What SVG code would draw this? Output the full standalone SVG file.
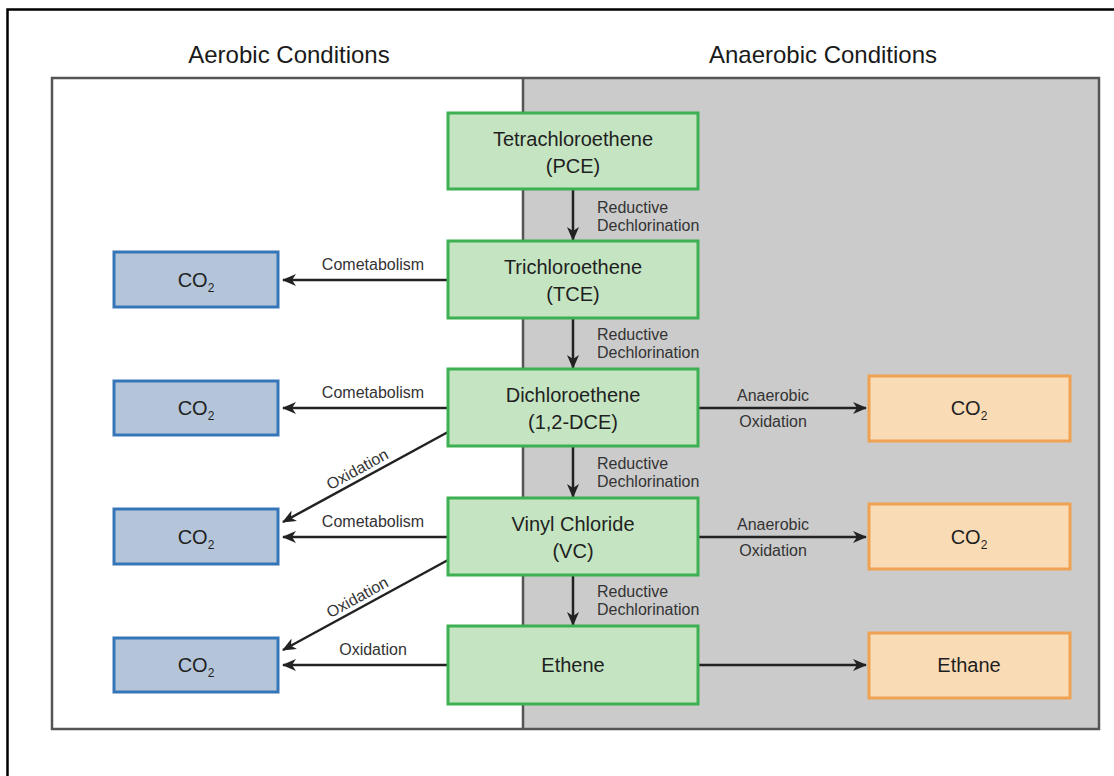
<svg xmlns="http://www.w3.org/2000/svg" width="1114" height="776" viewBox="0 0 1114 776">
<defs>
<marker id="ah" markerUnits="userSpaceOnUse" markerWidth="14" markerHeight="12" refX="13" refY="6" orient="auto">
<path d="M0,0 L14,6 L0,12 L4,6 z" fill="#222"/>
</marker>
<style>
.hdr{font-family:"Liberation Sans",Arial,sans-serif;font-size:24px;fill:#1a1a1a;text-anchor:middle}
.bt{font-family:"Liberation Sans",Arial,sans-serif;font-size:20px;fill:#1f1f1f;text-anchor:middle}
.lb{font-family:"Liberation Sans",Arial,sans-serif;font-size:16px;fill:#333;}
.lbc{font-family:"Liberation Sans",Arial,sans-serif;font-size:16px;fill:#333;text-anchor:middle}
.sub{font-size:12px}
.green{fill:#c5e5c2;stroke:#3db052;stroke-width:3}
.blue{fill:#b5c5d9;stroke:#3576b8;stroke-width:3}
.orange{fill:#f9dcb6;stroke:#f0a253;stroke-width:3}
.conn{stroke:#222;stroke-width:2.5;fill:none;marker-end:url(#ah)}
</style>
</defs>
<rect width="1114" height="776" fill="#fff"/>
<rect x="7.5" y="9.5" width="1200" height="900" fill="none" stroke="#000" stroke-width="2.5"/>
<text class="hdr" x="289" y="63">Aerobic Conditions</text>
<text class="hdr" x="823" y="63">Anaerobic Conditions</text>
<g id="panel">
<rect x="52" y="78" width="471" height="651" fill="#fff"/>
<rect x="523" y="78" width="576" height="651" fill="#cbcbcb"/>
<rect x="52" y="78" width="1047" height="651" fill="none" stroke="#555" stroke-width="2.5"/>
<line x1="523" y1="78" x2="523" y2="729" stroke="#555" stroke-width="2.5"/>
</g>
<g id="connectors">
<line class="conn" x1="573" y1="189" x2="573" y2="240"/>
<line class="conn" x1="573" y1="318" x2="573" y2="368"/>
<line class="conn" x1="573" y1="446" x2="573" y2="497"/>
<line class="conn" x1="573" y1="575" x2="573" y2="625"/>
<line class="conn" x1="448" y1="280" x2="283" y2="280"/>
<line class="conn" x1="448" y1="408" x2="283" y2="408"/>
<line class="conn" x1="448" y1="537" x2="283" y2="537"/>
<line class="conn" x1="448" y1="665" x2="283" y2="665"/>
<line class="conn" x1="448" y1="432" x2="283" y2="522"/>
<line class="conn" x1="448" y1="560" x2="283" y2="650"/>
<line class="conn" x1="698" y1="408" x2="866" y2="408"/>
<line class="conn" x1="698" y1="537" x2="866" y2="537"/>
<line class="conn" x1="698" y1="665" x2="866" y2="665"/>
<text class="lb" x="597" y="213">Reductive</text>
<text class="lb" x="597" y="231">Dechlorination</text>
<text class="lb" x="597" y="340">Reductive</text>
<text class="lb" x="597" y="358">Dechlorination</text>
<text class="lb" x="597" y="469">Reductive</text>
<text class="lb" x="597" y="487">Dechlorination</text>
<text class="lb" x="597" y="597">Reductive</text>
<text class="lb" x="597" y="615">Dechlorination</text>
<text class="lbc" x="373" y="270">Cometabolism</text>
<text class="lbc" x="373" y="398">Cometabolism</text>
<text class="lbc" x="373" y="527">Cometabolism</text>
<text class="lbc" x="373" y="655">Oxidation</text>
<text class="lbc" x="773" y="401">Anaerobic</text>
<text class="lbc" x="773" y="427">Oxidation</text>
<text class="lbc" x="773" y="530">Anaerobic</text>
<text class="lbc" x="773" y="556">Oxidation</text>
<text class="lbc" transform="translate(360,474) rotate(-28.6)">Oxidation</text>
<text class="lbc" transform="translate(360,602) rotate(-28.6)">Oxidation</text>
</g>
<g id="pce"><rect class="green" x="448" y="113" width="250" height="76"/>
<text class="bt" x="573" y="146">Tetrachloroethene</text><text class="bt" x="573" y="173">(PCE)</text></g>
<g id="tce"><rect class="green" x="448" y="241" width="250" height="77"/>
<text class="bt" x="573" y="274">Trichloroethene</text><text class="bt" x="573" y="301">(TCE)</text></g>
<g id="dce"><rect class="green" x="448" y="369" width="250" height="77"/>
<text class="bt" x="573" y="402">Dichloroethene</text><text class="bt" x="573" y="429">(1,2-DCE)</text></g>
<g id="vc"><rect class="green" x="448" y="498" width="250" height="77"/>
<text class="bt" x="573" y="531">Vinyl Chloride</text><text class="bt" x="573" y="558">(VC)</text></g>
<g id="ethene"><rect class="green" x="448" y="626" width="250" height="78"/>
<text class="bt" x="573" y="672">Ethene</text></g>
<g id="co2a1"><rect class="blue" x="114" y="252" width="164" height="55"/>
<text class="bt" x="196" y="287">CO<tspan class="sub" dy="5">2</tspan></text></g>
<g id="co2a2"><rect class="blue" x="114" y="381" width="164" height="54"/>
<text class="bt" x="196" y="415">CO<tspan class="sub" dy="5">2</tspan></text></g>
<g id="co2a3"><rect class="blue" x="114" y="509" width="164" height="55"/>
<text class="bt" x="196" y="544">CO<tspan class="sub" dy="5">2</tspan></text></g>
<g id="co2a4"><rect class="blue" x="114" y="638" width="164" height="54"/>
<text class="bt" x="196" y="672">CO<tspan class="sub" dy="5">2</tspan></text></g>
<g id="co2b1"><rect class="orange" x="869" y="376" width="201" height="65"/>
<text class="bt" x="969" y="415">CO<tspan class="sub" dy="5">2</tspan></text></g>
<g id="co2b2"><rect class="orange" x="869" y="504" width="201" height="65"/>
<text class="bt" x="969" y="544">CO<tspan class="sub" dy="5">2</tspan></text></g>
<g id="ethane"><rect class="orange" x="869" y="633" width="201" height="65"/>
<text class="bt" x="969" y="672">Ethane</text></g>
</svg>
